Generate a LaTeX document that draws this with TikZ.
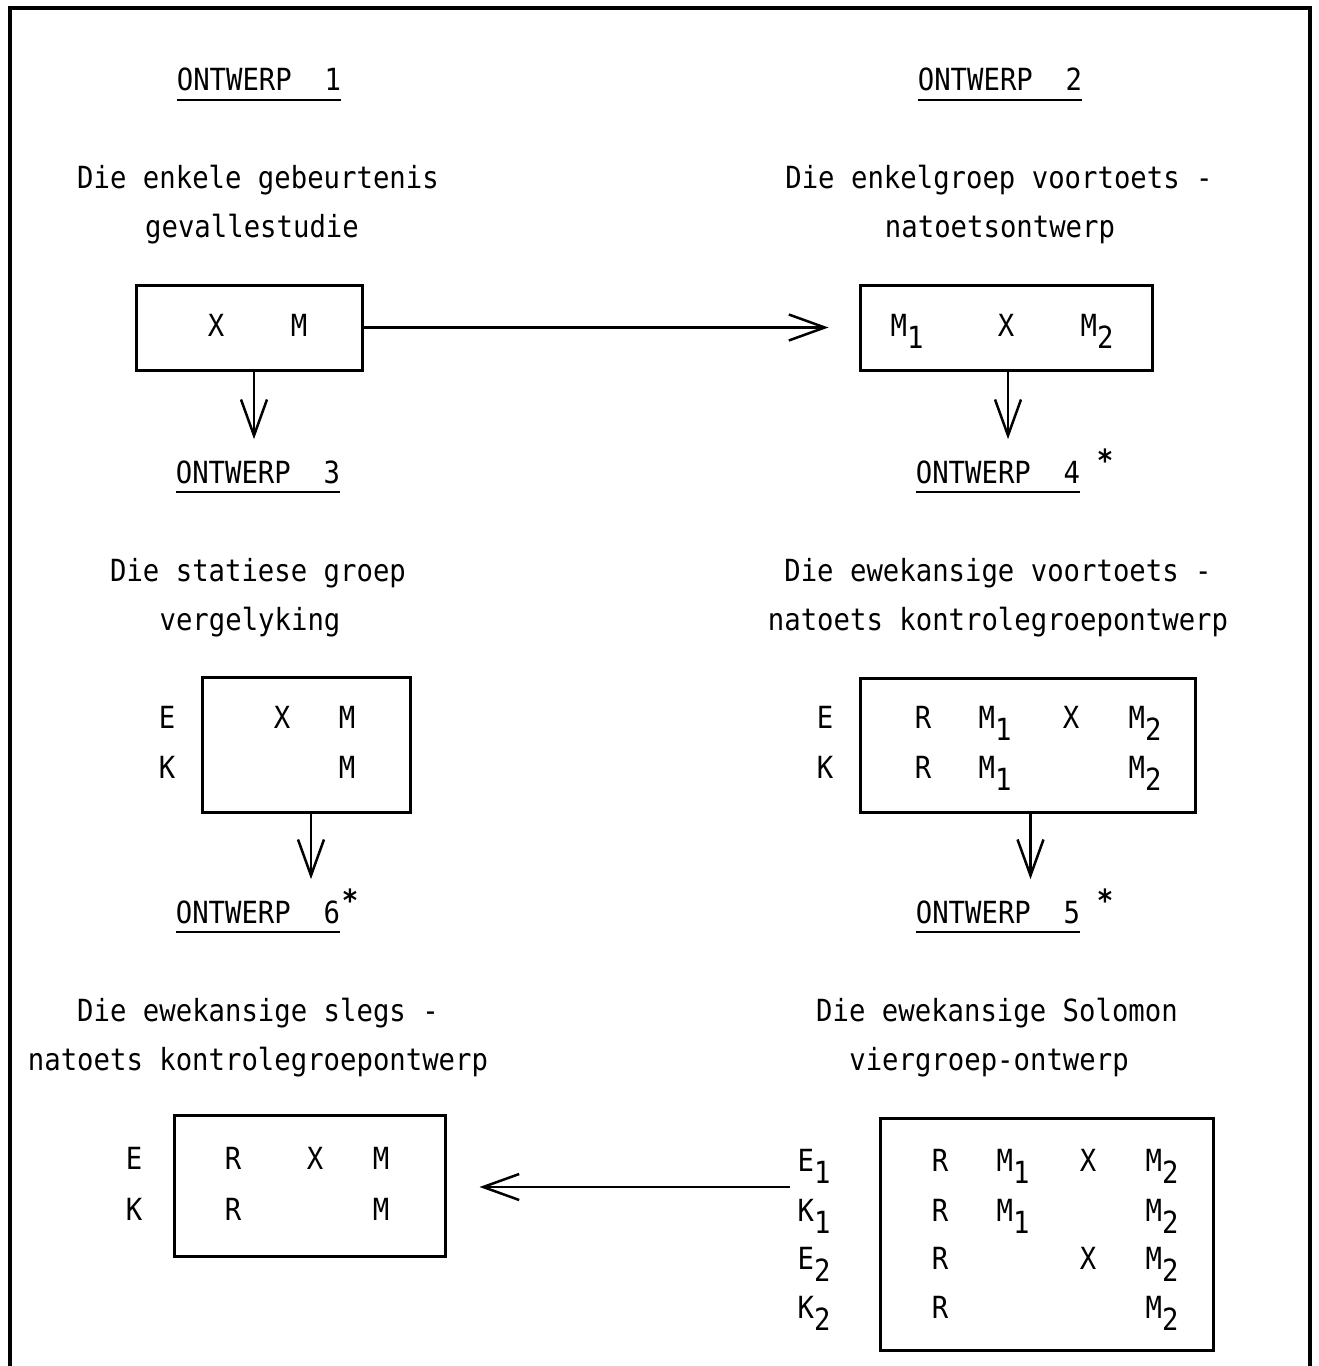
\documentclass[tikz,border=0pt]{standalone}
\usepackage{fontspec}
\setmainfont{DejaVu Sans Mono}[FakeStretch=0.895]
\usetikzlibrary{arrows.meta}
\newcommand\sub[1]{\raisebox{-0.42em}{#1}}
\tikzset{
  txt/.style={inner sep=0pt, anchor=base},
  star/.style={inner sep=0pt, anchor=base, font=\fontsize{30.5bp}{36bp}\selectfont\bfseries},
  box/.style={draw, line width=3bp, inner sep=0pt},
  arr/.style={line width=2.5bp, -{Straight Barb[length=36bp,width=26bp,line width=2.5bp]}},
  ul/.style={line width=2.5bp},
  frame/.style={line width=4bp},
}
\begin{document}
\begin{tikzpicture}[x=1bp,y=-1bp,font=\fontsize{30.5bp}{36bp}\selectfont]
\useasboundingbox (0,0) rectangle (1319,1366);
\draw[frame] (10,1380) -- (10,8) -- (1310,8) -- (1310,1380);

% headings
\node[txt] (o1) at (259,91) {ONTWERP\ \ 1};
\node[txt] (o2) at (1000,91) {ONTWERP\ \ 2};
\node[txt] (o3) at (258,483) {ONTWERP\ \ 3};
\node[txt] (o4) at (998,483) {ONTWERP\ \ 4};
\node[txt] (o6) at (258,923) {ONTWERP\ \ 6};
\node[txt] (o5) at (998,923) {ONTWERP\ \ 5};
\foreach \o in {o1,o2,o3,o4,o5,o6}
  \draw[ul] ([yshift=-9bp]\o.base west) -- ([yshift=-9bp]\o.base east);
\node[star] (s4) at (1105,471) {*};
\node[star] (s6) at (350,911) {*};
\node[star] (s5) at (1105,911) {*};

% titles
\node[txt] (t1a) at (258,189) {Die enkele gebeurtenis};
\node[txt] (t1b) at (252,238) {gevallestudie};
\node[txt] (t2a) at (999,189) {Die enkelgroep voortoets -};
\node[txt] (t2b) at (1000,238) {natoetsontwerp};
\node[txt] (t3a) at (258,581) {Die statiese groep};
\node[txt] (t3b) at (250,630) {vergelyking};
\node[txt] (t4a) at (998,581) {Die ewekansige voortoets -};
\node[txt] (t4b) at (998,630) {natoets kontrolegroepontwerp};
\node[txt] (t5a) at (258,1021) {Die ewekansige slegs -};
\node[txt] (t5b) at (258,1070) {natoets kontrolegroepontwerp};
\node[txt] (t6a) at (997,1021) {Die ewekansige Solomon};
\node[txt] (t6b) at (989,1070) {viergroep-ontwerp};

% boxes
\node[box, minimum width=226bp, minimum height=85bp] (b1) at (249,327.5) {};
\node[box, minimum width=292bp, minimum height=85bp] (b2) at (1006,327.5) {};
\node[box, minimum width=208bp, minimum height=135bp] (b3) at (306,744.5) {};
\node[box, minimum width=335bp, minimum height=134bp] (b4) at (1027.5,745) {};
\node[box, minimum width=271bp, minimum height=141bp] (b5) at (309.5,1185.5) {};
\node[box, minimum width=333bp, minimum height=232bp] (b6) at (1046.5,1234) {};

% box 1
\node[txt] (b1x) at (216,336) {X};
\node[txt] (b1m) at (299,336) {M};
% box 2
\node[txt] (b2m1) at (907,336) {M\sub{1}};
\node[txt] (b2x) at (1006,336) {X};
\node[txt] (b2m2) at (1097,336) {M\sub{2}};
% box 3
\node[txt] (b3e) at (167,728) {E};
\node[txt] (b3k) at (167,778) {K};
\node[txt] (b3x) at (282,728) {X};
\node[txt] (b3m1) at (347,728) {M};
\node[txt] (b3m2) at (347,778) {M};
% box 4
\node[txt] (b4e) at (825,728) {E};
\node[txt] (b4k) at (825,778) {K};
\foreach \n/\x/\t in {r/923/R, m/995/M\sub{1}, x/1071/X, n/1145/M\sub{2}}
  \node[txt] (b4a\n) at (\x,728) {\t};
\foreach \n/\x/\t in {r/923/R, m/995/M\sub{1}, n/1145/M\sub{2}}
  \node[txt] (b4b\n) at (\x,778) {\t};
% box 5
\node[txt] (b5e) at (134,1169) {E};
\node[txt] (b5k) at (134,1220) {K};
\foreach \n/\x/\t in {r/233/R, x/315/X, m/381/M}
  \node[txt] (b5a\n) at (\x,1169) {\t};
\foreach \n/\x/\t in {r/233/R, m/381/M}
  \node[txt] (b5b\n) at (\x,1220) {\t};
% box 6
\node[txt] (l1) at (814,1171) {E\sub{1}};
\node[txt] (l2) at (814,1221) {K\sub{1}};
\node[txt] (l3) at (814,1269) {E\sub{2}};
\node[txt] (l4) at (814,1318) {K\sub{2}};
\foreach \n/\x/\t in {r/940/R, m/1013/M\sub{1}, x/1088/X, n/1162/M\sub{2}}
  \node[txt] (b6a\n) at (\x,1171) {\t};
\foreach \n/\x/\t in {r/940/R, m/1013/M\sub{1}, n/1162/M\sub{2}}
  \node[txt] (b6b\n) at (\x,1221) {\t};
\foreach \n/\x/\t in {r/940/R, x/1088/X, n/1162/M\sub{2}}
  \node[txt] (b6c\n) at (\x,1269) {\t};
\foreach \n/\x/\t in {r/940/R, n/1162/M\sub{2}}
  \node[txt] (b6d\n) at (\x,1318) {\t};

% arrows
\draw[arr, shorten >=30bp] (b1.east) -- (b2.west);
\draw[arr, shorten >=21bp] ([xshift=5bp]b1.south) -- ([xshift=5bp]b1.south |- o3.north);
\draw[arr, shorten >=21bp] ([xshift=2bp]b2.south) -- ([xshift=2bp]b2.south |- o4.north);
\draw[arr, shorten >=21bp] ([xshift=5bp]b3.south) -- ([xshift=5bp]b3.south |- o6.north);
\draw[arr, shorten >=21bp] ([xshift=3bp]b4.south) -- ([xshift=3bp]b4.south |- o5.north);
\coordinate (a6s) at (790,1187);
\draw[arr, shorten >=33bp] (a6s) -- (b5.east |- a6s);
\end{tikzpicture}
\end{document}
